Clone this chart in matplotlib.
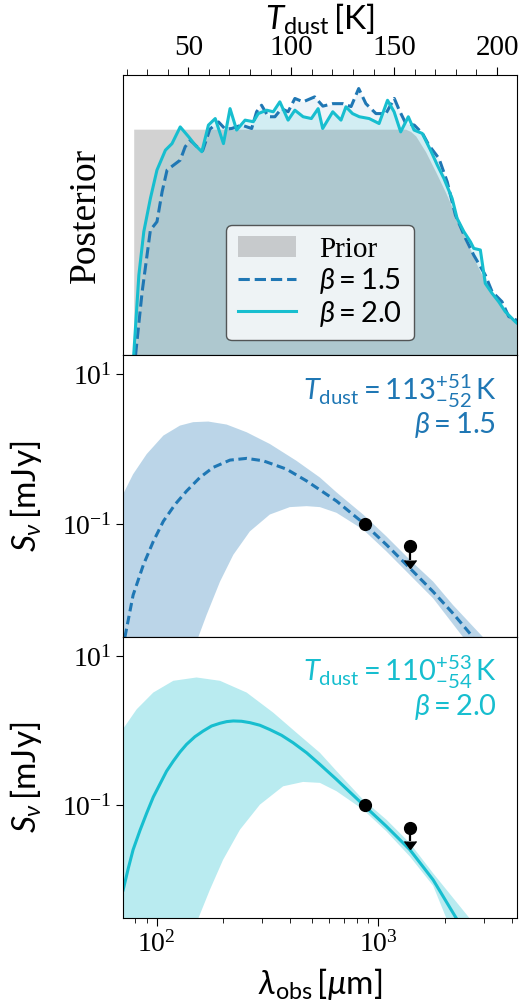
import numpy as np
import matplotlib
matplotlib.use("Agg")
import matplotlib.pyplot as plt
from matplotlib.ticker import NullLocator, NullFormatter, MultipleLocator

plt.rcParams['font.family'] = 'serif'
plt.rcParams['font.serif'] = ['Liberation Serif', 'DejaVu Serif']
plt.rcParams['mathtext.fontset'] = 'custom'
plt.rcParams['mathtext.rm'] = 'Lato'
plt.rcParams['mathtext.it'] = 'Lato:italic'
plt.rcParams['mathtext.bf'] = 'Lato:bold'
plt.rcParams['mathtext.sf'] = 'Lato'

c15 = '#1f77b4'
c20 = '#17becf'

# --- posterior of T_dust (top panel)
prior_T = [23.5, 152.0, 155.6, 158.0, 160.5, 165.3, 170.2, 175.0, 179.8, 184.7,
           189.5, 194.3, 199.2, 204.0, 210.5]
prior_p = [1.0, 1.0, 1.0, 0.99, 0.97, 0.90, 0.811, 0.72, 0.619, 0.516,
           0.413, 0.324, 0.251, 0.192, 0.13]

T_b15 = [24.4, 27.6, 31.6, 34.8, 37.3, 39.7, 42.9, 46.1, 48.5, 51.0, 54.5, 57.0,
         60.5, 64.7, 68.0, 71.1, 75.9, 80.8, 83.2, 85.6, 88.9, 92.1, 95.3, 98.5,
         101.8, 105.8, 111.4, 115.4, 120.2, 125.1, 129.1, 132.8, 136.3, 141.2,
         146.0, 150.1, 152.5, 155.7, 159.8, 163.8, 166.9, 171.8, 175.8, 179.8,
         184.7, 188.7, 194.3, 197.6, 202.4, 205.7, 210.5]
p_b15 = [0.0, 0.280, 0.553, 0.590, 0.723, 0.819, 0.841, 0.863, 0.922, 0.951, 0.92, 0.905,
         1.00, 1.032, 1.00, 1.003, 1.018, 1.003, 1.077, 1.106, 1.055, 1.055, 1.091, 1.077,
         1.136, 1.121, 1.143, 1.102, 1.113, 1.113, 1.10, 1.180, 1.113, 1.069,
         1.069, 1.136, 1.084, 1.025, 1.018, 0.981, 0.929, 0.870, 0.767, 0.619,
         0.516, 0.442, 0.354, 0.280, 0.236, 0.170, 0.150]

T_b20 = [23.5, 26.0, 28.4, 31.6, 34.8, 38.9, 42.1, 46.1, 50.2, 53.4, 56.6, 59.8,
         63.1, 67.1, 70.3, 73.5, 77.6, 81.6, 84.0, 88.1, 91.3, 94.5, 98.5, 101.8,
         105.8, 109.8, 113.1, 115.3, 120.2, 124.2, 126.6, 129.8, 133.1, 137.9,
         142.7, 146.8, 150.0, 153.2, 156.9, 159.7, 163.7, 167.7, 171.0, 174.2,
         178.2, 180.6, 183.9, 187.1, 188.7, 191.9, 194.3, 197.6, 200.8, 204.0,
         208.9, 210.5]
p_b20 = [0.0, 0.354, 0.546, 0.693, 0.819, 0.907, 0.936, 1.010, 0.966, 0.929, 0.900, 1.018,
         1.047, 0.936, 1.091, 0.996, 1.040, 1.033, 1.069, 1.084, 1.077, 1.121, 1.040, 1.084,
         1.055, 1.047, 1.091, 1.003, 1.077, 1.040, 1.099, 1.069, 1.055, 1.047,
         1.025, 1.128, 1.077, 0.988, 1.055, 0.996, 0.981, 0.907, 0.841, 0.782,
         0.693, 0.605, 0.546, 0.501, 0.472, 0.465, 0.317, 0.273, 0.236, 0.192,
         0.147, 0.135]

# --- SED, beta = 1.5 (middle panel)
lam_b15 = [71.9, 78.3, 87.1, 96.6, 107.2, 121.1, 136.5, 156.7, 179.9, 214.3, 254.7,
           302.7, 385.5, 475.3, 648.6, 855.1, 1089, 1390, 1770, 2178, 2679]
S_b15 = [0.00305, 0.01114, 0.02825, 0.0583, 0.1084, 0.182, 0.2748, 0.417, 0.569, 0.713,
         0.752, 0.698, 0.540, 0.375, 0.2018, 0.1030, 0.0526, 0.02553, 0.01236, 0.00631,
         0.00305]
lam_b15_hi = [70.5, 78.3, 90.2, 107.2, 127.4, 146.2, 171.0, 207.0, 254.7, 324.3, 427.6,
              545.8, 648.6, 855.1, 1089, 1390, 1770, 2178, 2972]
S_b15_hi = [0.248, 0.461, 0.859, 1.517, 2.065, 2.296, 2.339, 2.133, 1.683, 1.172, 0.698,
            0.417, 0.264, 0.1334, 0.068, 0.033, 0.0169, 0.00817, 0.00305]
lam_b15_lo = [70.5, 135.0, 154.2, 167.9, 193.2, 221.8, 263.6, 324.3, 399.0, 475.3, 545.8,
              648.6, 855.1, 1089, 1390, 1770, 2415]
S_b15_lo = [0.0008, 0.0008, 0.00305, 0.006, 0.01687, 0.0385, 0.0794, 0.1334, 0.1675,
            0.1726, 0.1675, 0.1406, 0.0838, 0.0428, 0.0207, 0.01007, 0.00305]

# --- SED, beta = 2.0 (bottom panel)
lam_b20 = [70.6, 74.5, 78.3, 84.1, 90.2, 96.6, 103.5, 110.9, 118.9, 127.4, 136.5,
           148.8, 162.2, 177.0, 193.2, 207.0, 221.8, 241.5, 263.6, 292.4, 324.3,
           366.4, 413.0, 475.3, 545.8, 648.6, 855.1, 1089, 1390, 1770, 2254]
S_b20 = [0.00729, 0.01429, 0.0253, 0.0460, 0.0787, 0.1294, 0.193, 0.2877, 0.392, 0.519,
         0.659, 0.834, 0.995, 1.162, 1.265, 1.330, 1.358, 1.345, 1.288, 1.189, 1.04,
         0.871, 0.692, 0.507, 0.354, 0.222, 0.102, 0.0521, 0.0253, 0.00995, 0.00302]
lam_b20_hi = [70.5, 81.3, 96.6, 118.9, 151.4, 193.2, 254.7, 335.7, 427.6, 545.8, 648.6,
              855.1, 1089, 1390, 1770, 2588]
S_b20_hi = [1.059, 1.95, 3.27, 4.70, 5.21, 4.70, 3.27, 1.758, 0.944, 0.507, 0.288,
            0.119, 0.0641, 0.031, 0.0122, 0.00302]
lam_b20_lo = [70.5, 135.0, 154.2, 173.8, 199.5, 237.7, 292.4, 372.4, 458.1, 545.8, 648.6,
              855.1, 1089, 1390, 1770, 2032]
S_b20_lo = [0.0008, 0.0008, 0.00302, 0.00729, 0.01854, 0.047, 0.102, 0.18, 0.206, 0.2,
            0.1545, 0.0875, 0.0446, 0.0205, 0.0083, 0.00302]

# photometry
lam_det = [870]
S_det = [0.1]
lam_ul = [1390]
S_ul = [0.05]
ul_len = [0.017]

fig = plt.figure(figsize=(5.21, 10.01), dpi=100)
ax0 = fig.add_axes([0.2361, 0.6454, 0.7562, 0.2797])
ax1 = fig.add_axes([0.2361, 0.3636, 0.7562, 0.2818])
ax2 = fig.add_axes([0.2361, 0.0829, 0.7562, 0.2807])

# top panel
ax0.fill_between(prior_T, 0, prior_p, color='gray', alpha=0.35, lw=0, label='Prior')
ax0.fill_between(T_b15, 0, p_b15, color=c15, alpha=0.08, lw=0)
ax0.fill_between(T_b20, 0, p_b20, color=c20, alpha=0.12, lw=0)
ax0.plot(T_b15, p_b15, '--', color=c15, lw=2.2, label=r'$\beta=1.5$')
ax0.plot(T_b20, p_b20, '-', color=c20, lw=2.2, label=r'$\beta=2.0$')
ax0.set_xlim(18.3, 209.7)
ax0.set_ylim(0, 1.24)
ax0.set_yticks([])
ax0.xaxis.tick_top()
ax0.xaxis.set_label_position('top')
ax0.xaxis.set_major_locator(MultipleLocator(50))
ax0.xaxis.set_minor_locator(MultipleLocator(10))
ax0.tick_params(axis='x', which='major', labelsize=21, length=6, pad=4)
ax0.tick_params(axis='x', which='minor', length=4)
ax0.set_xlabel(r'$T_{\rm dust}\,[\mathrm{K}]$', fontsize=24, labelpad=4)
ax0.set_ylabel('Posterior', fontsize=27)
ax0.yaxis.set_label_coords(-0.05, 0.5)
leg = ax0.legend(loc='lower center', bbox_to_anchor=(0.5, 0.0), fontsize=21,
                 frameon=True, fancybox=True, edgecolor='0.2', framealpha=0.8,
                 handlelength=2.0, borderpad=0.4, labelspacing=0.1)
leg.get_frame().set_linewidth(1.0)

# SED panels
panels = [
    (ax1, lam_b15, S_b15, lam_b15_hi, S_b15_hi, lam_b15_lo, S_b15_lo, c15, '--',
     r'$T_{\rm dust}=113^{+51}_{-52}\,\mathrm{K}$', r'$\beta=1.5$'),
    (ax2, lam_b20, S_b20, lam_b20_hi, S_b20_hi, lam_b20_lo, S_b20_lo, c20, '-',
     r'$T_{\rm dust}=110^{+53}_{-54}\,\mathrm{K}$', r'$\beta=2.0$'),
]
for ax, lam, S, lhi, shi, llo, slo, col, ls, t1, t2 in panels:
    ax.fill(list(lhi) + list(llo[::-1]), list(shi) + list(slo[::-1]),
            color=col, alpha=0.3, lw=0)
    if ls == '--':
        ax.plot(lam, S, color=col, lw=2.2, dashes=(2.8, 1.5))
    else:
        ax.plot(lam, S, color=col, lw=2.2)
    ax.plot(lam_det, S_det, 'o', color='k', ms=8.5, zorder=5)
    ax.errorbar(lam_ul, S_ul, yerr=ul_len, uplims=True, fmt='o', color='k',
                ms=8.5, capsize=4, elinewidth=1.6, zorder=5)
    ax.set_xscale('log')
    ax.set_yscale('log')
    ax.set_xlim(70.5, 4230)
    ax.set_ylim(0.00306, 18.2)
    ax.set_yticks([1e-1, 1e1])
    ax.yaxis.set_minor_locator(NullLocator())
    ax.xaxis.set_minor_formatter(NullFormatter())
    ax.tick_params(axis='y', which='major', labelsize=20, length=5)
    ax.tick_params(axis='x', which='major', labelsize=20, length=6)
    ax.tick_params(axis='x', which='minor', length=3.5)
    ax.set_ylabel(r'$S_{\nu}\,[\mathrm{mJy}]$', fontsize=24)
    ax.yaxis.set_label_coords(-0.2, 0.5)
    ax.text(0.948, 0.840, t1, transform=ax.transAxes, ha='right', va='baseline',
            color=col, fontsize=21)
    ax.text(0.948, 0.722, t2, transform=ax.transAxes, ha='right', va='baseline',
            color=col, fontsize=21)

ax1.tick_params(axis='x', which='both', bottom=False, labelbottom=False)
ax2.set_xlabel(r'$\lambda_{\rm obs}\,[\mu\mathrm{m}]$', fontsize=24, labelpad=6)

fig.savefig('out.png', dpi=100)
